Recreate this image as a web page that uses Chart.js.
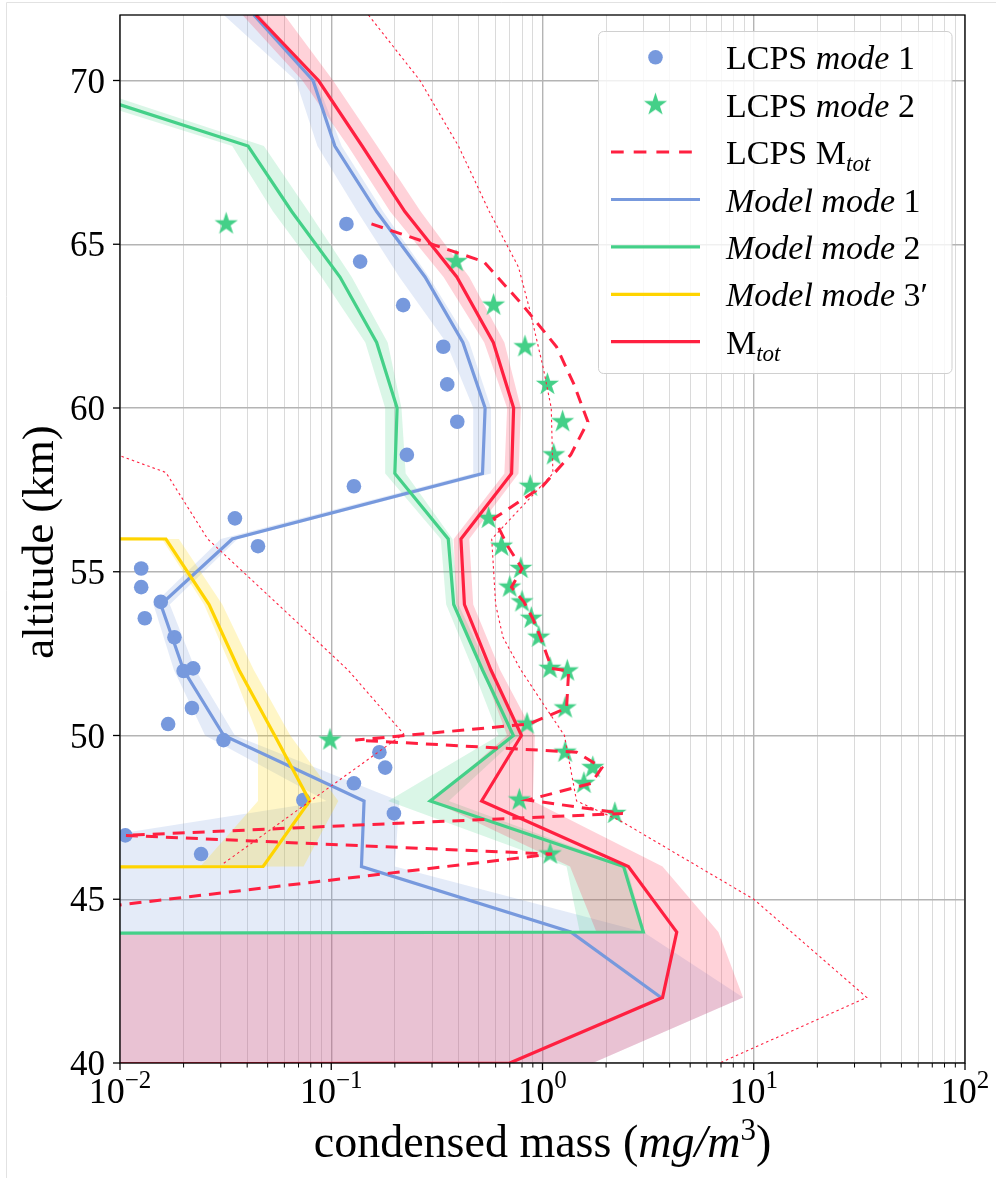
<!DOCTYPE html>
<html>
<head>
<meta charset="utf-8">
<script src="https://cdn.jsdelivr.net/npm/chart.js@4.4.1/dist/chart.umd.min.js"></script>
<style>
html,body{margin:0;padding:0;background:#fff;}
canvas{display:block;}
</style>
</head>
<body>
<canvas id="c" width="996" height="1178"></canvas>
<script>
// ---------------- DATA ----------------
// model altitude grid (km)
const modelAlt   = [72,70,68,66,64,62,60,58,56,54,52,50,48,46,44,42,40,38];
// Model mode 1 (blue) + uncertainty band
const mode1Model = [0.043,0.082,0.104,0.164,0.278,0.42,0.535,0.52,0.034,0.0156,0.020,0.031,0.143,0.139,1.36,3.64,null,null];
const mode1Low   = [0.031,0.068,0.086,0.133,0.21,0.35,0.47,0.47,0.030,0.0144,0.018,0.0253,0.095,0.001,0,0,0,null];
const mode1High  = [0.046,0.085,0.112,0.176,0.29,0.45,0.57,0.57,0.036,0.0172,0.0228,0.035,0.21,0.20,3.0,8.9,1.73,null];
// Model mode 2 (green)
const mode2Model = [null,0.0044,0.0404,0.065,0.11,0.164,0.205,0.20,0.358,0.38,0.52,0.728,0.294,2.42,3.0,0,0,null];
const mode2Low   = [null,0.0035,0.034,0.053,0.09,0.145,0.18,0.18,0.33,0.35,0.47,0.62,0.186,1.3,1.5,null,null,null];
const mode2High  = [null,0.0055,0.048,0.078,0.125,0.185,0.215,0.225,0.375,0.40,0.56,0.78,0.36,2.5,3.05,null,null,null];
// Model mode 3' (yellow)
const mode3Model = [0,0,0,0,0,0,0,0,0.0165,0.0264,0.0366,0.054,0.079,0.0476,0,0,0,null];
const mode3Low   = [null,null,null,null,null,null,null,0,0.0158,0.025,0.034,0.045,0.045,0.024,0,null,null,null];
const mode3High  = [null,null,null,null,null,null,null,0,0.019,0.0305,0.043,0.064,0.108,0.074,0,null,null,null];
// Model total mass (red)
const mtotModel  = [0.044,0.087,0.14,0.223,0.393,0.585,0.73,0.714,0.411,0.427,0.57,0.795,0.515,2.55,4.32,3.7,0.70,0];
const mtotLow    = [0.038,0.073,0.12,0.19,0.34,0.53,0.68,0.66,0.38,0.39,0.52,0.68,0.30,1.35,1.8,0,0,null];
const mtotHigh   = [0.060,0.102,0.165,0.265,0.45,0.66,0.79,0.77,0.45,0.47,0.63,0.92,0.90,3.7,6.8,8.9,1.73,null];

// LCPS measurements
const lcpsAlt   = [65.62,64.47,63.14,61.87,60.72,59.58,58.57,57.61,56.63,55.78,55.10,54.53,54.08,53.58,53.00,52.05,51.97,50.84,50.35,49.86,49.49,49.02,48.54,48.03,47.62,46.95,46.38,44.6];
const lcpsMode1 = [0.118,0.137,0.219,0.339,0.354,0.395,0.228,0.128,0.035,0.045,0.0126,0.0126,0.0156,0.0131,0.0181,0.0222,0.0200,0.0219,0.0169,0.0309,0.169,0.180,0.128,0.0738,0.198,0.0106,0.0242,null];
const lcpsMode2 = [0.0318,0.39,0.587,0.826,1.055,1.245,1.13,0.875,0.556,0.64,0.79,0.70,0.80,0.885,0.96,1.085,1.31,1.28,0.845,0.0986,1.28,1.73,1.57,0.777,2.2,null,1.087,null];
const lcpsMtot  = [0.155,0.527,0.806,1.165,1.41,1.64,1.36,1.0,0.59,0.685,0.80,0.713,0.816,0.898,0.978,1.105,1.33,1.30,0.862,0.13,1.45,1.91,1.70,0.85,2.40,0.0106,1.11,0.005];

// thin dotted envelope profiles
const envHiAlt = [72,70,68,66,64.3,63,61.2,60,58,56,54,53,52,51,50,48,47.4,45,42,40];
const envHi    = [0.15,0.263,0.40,0.56,0.77,0.87,1.01,1.10,1.12,0.575,0.60,0.65,0.79,1.0,1.27,1.45,2.33,10.0,34.3,6.9];
const envLoAlt = [59.5,58.03,56,54,52,50.05,46.1];
const envLo    = [0.0039,0.0165,0.026,0.056,0.12,0.22,0.031];

// axes
const xMajorExp = [-2,-1,0,1,2];
const yTicks    = [40,45,50,55,60,65,70];

// ---------------- STYLE ----------------
const RED='#ff2040', BLUE='#7799dd', GREEN='#44d088', YELLOW='#ffd400';
function rgba(hex,a){const n=parseInt(hex.slice(1),16);return `rgba(${n>>16},${(n>>8)&255},${n&255},${a})`;}
const SERIF='"Liberation Serif", "DejaVu Serif", serif';

// non-positive values on a log axis are clipped far to the left (as matplotlib does)
const CLIP=1e-300;
const cv=v=>v===0?CLIP:v;
function profile(alts,vals){const o=[];alts.forEach((a,i)=>{const v=vals[i];if(v!=null)o.push({x:cv(v),y:a});});return o;}
function band(alts,lo,hi){const o=[];alts.forEach((a,i)=>{if(lo[i]!=null)o.push({x:cv(lo[i]),y:a});});
  for(let i=alts.length-1;i>=0;i--){if(hi[i]!=null)o.push({x:cv(hi[i]),y:alts[i]});}return o;}

function makeStar(R,color){
  const s=Math.ceil(R*2+2);const c=document.createElement('canvas');c.width=s;c.height=s;
  const g=c.getContext('2d');g.fillStyle=color;g.beginPath();
  for(let i=0;i<10;i++){const r=i%2===0?R:R*0.382;const a=-Math.PI/2+i*Math.PI/5;
    const x=s/2+r*Math.cos(a),y=s/2+r*Math.sin(a);i===0?g.moveTo(x,y):g.lineTo(x,y);}
  g.closePath();g.fill();return c;
}
const STAR=makeStar(12.2,GREEN);

function bandDS(data,color,order){return{data,borderWidth:0,borderColor:'transparent',pointRadius:0,backgroundColor:color,fill:'shape',order};}
function lineDS(data,color,order,extra){return Object.assign({data,borderColor:color,backgroundColor:color,borderWidth:3.2,pointRadius:0,fill:false,order,tension:0},extra||{});}

const datasets=[
  bandDS(band(modelAlt,mtotLow,mtotHigh),rgba(RED,0.2),9),
  bandDS(band(modelAlt,mode3Low,mode3High),rgba(YELLOW,0.22),10),
  bandDS(band(modelAlt,mode2Low,mode2High),rgba(GREEN,0.2),11),
  bandDS(band(modelAlt,mode1Low,mode1High),rgba(BLUE,0.2),12),
  {data:profile(lcpsAlt,lcpsMode1),showLine:false,pointRadius:7.3,pointStyle:'circle',pointBackgroundColor:BLUE,pointBorderWidth:0,pointBorderColor:BLUE,clip:0,order:8},
  {data:profile(lcpsAlt,lcpsMode2),showLine:false,pointRadius:12,pointStyle:STAR,clip:0,order:7},
  lineDS(profile(modelAlt,mode1Model),BLUE,6),
  lineDS(profile(modelAlt,mode2Model),GREEN,5),
  lineDS(profile(modelAlt,mode3Model),YELLOW,4),
  lineDS(profile(modelAlt,mtotModel),RED,3),
  lineDS(profile(envHiAlt,envHi),RED,2,{borderWidth:1.1,borderDash:[2.5,3]}),
  lineDS(profile(envLoAlt,envLo),RED,2,{borderWidth:1.1,borderDash:[2.5,3]}),
  lineDS(profile(lcpsAlt,lcpsMtot),RED,1,{borderWidth:3,borderDash:[12,8]}),
];

const xTickVals=[];
xMajorExp.forEach(e=>{for(let m=1;m<=9;m++){if(e===xMajorExp[xMajorExp.length-1]&&m>1)break;
  xTickVals.push({value:parseFloat((m*Math.pow(10,e)).toPrecision(6)),major:m===1});}});

// ---------------- DECORATION PLUGIN ----------------
function rich(g,x,y,parts){let cx=x;for(const p of parts){g.font=p[1];g.fillText(p[0],cx,y+(p[2]||0));cx+=g.measureText(p[0]).width;}return cx;}
function richWidth(g,parts){let w=0;for(const p of parts){g.font=p[1];w+=g.measureText(p[0]).width;}return w;}

const LR='34px '+SERIF, LI='italic 34px '+SERIF, LS='italic 23px '+SERIF;
const legendItems=[
  {kind:'dot',parts:[['LCPS ',LR],['mode',LI],[' 1',LR]]},
  {kind:'star',parts:[['LCPS ',LR],['mode',LI],[' 2',LR]]},
  {kind:'dash',color:RED,parts:[['LCPS M',LR],['tot',LS,7]]},
  {kind:'line',color:BLUE,parts:[['Model mode',LI],[' 1',LR]]},
  {kind:'line',color:GREEN,parts:[['Model mode',LI],[' 2',LR]]},
  {kind:'line',color:YELLOW,parts:[['Model mode',LI],[' 3\u2032',LR]]},
  {kind:'line',color:RED,parts:[['M',LR],['tot',LS,7]]},
];

function drawLegend(g){
  g.save();
  g.beginPath();g.roundRect(598.5,31.5,353.5,342,5);
  g.fillStyle='rgba(255,255,255,0.8)';g.fill();
  g.strokeStyle='#d0d0d0';g.lineWidth=1;g.stroke();
  legendItems.forEach((it,i)=>{
    const y=57.3+i*47.4;
    if(it.kind==='dot'){g.fillStyle=BLUE;g.beginPath();g.arc(655.5,y,7.3,0,Math.PI*2);g.fill();}
    else if(it.kind==='star'){g.drawImage(STAR,655.5-STAR.width/2,y-STAR.height/2);}
    else{g.strokeStyle=it.color;g.lineWidth=it.kind==='dash'?3:3.2;g.setLineDash(it.kind==='dash'?[12.7,10]:[]);
      g.beginPath();g.moveTo(611,y);g.lineTo(it.kind==='dash'?692:700,y);g.stroke();g.setLineDash([]);}
    g.fillStyle='#000';g.textAlign='left';g.textBaseline='alphabetic';
    rich(g,726,y+12,it.parts);
  });
  g.restore();
}

const deco={
  id:'deco',
  beforeDraw(chart){
    const g=chart.ctx;g.save();g.fillStyle='#fff';g.fillRect(0,0,chart.width,chart.height);
    g.strokeStyle='#e2e2e2';g.lineWidth=1;g.beginPath();g.moveTo(6.5,chart.height);g.lineTo(6.5,2.5);g.lineTo(chart.width,2.5);g.stroke();g.restore();
  },
  afterDraw(chart){
    const g=chart.ctx,a=chart.chartArea,xs=chart.scales.x,ys=chart.scales.y;
    drawLegend(g);
    g.save();
    g.strokeStyle='#000';g.lineWidth=1.3;
    g.strokeRect(a.left,a.top,a.right-a.left,a.bottom-a.top);
    // x tick marks
    xTickVals.forEach(t=>{const px=xs.getPixelForValue(t.value);g.lineWidth=t.major?1.3:1;
      g.beginPath();g.moveTo(px,a.bottom);g.lineTo(px,a.bottom+(t.major?7:4.5));g.stroke();});
    // y tick marks
    g.lineWidth=1.3;
    yTicks.forEach(v=>{const py=ys.getPixelForValue(v);g.beginPath();g.moveTo(a.left-7,py);g.lineTo(a.left,py);g.stroke();});
    // y tick labels
    g.fillStyle='#000';g.textAlign='right';g.textBaseline='alphabetic';g.font='35px '+SERIF;
    yTicks.forEach(v=>{const py=ys.getPixelForValue(v);g.fillText(String(v),a.left-15,py+12);});
    // x tick labels 10^e
    g.textAlign='left';
    xMajorExp.forEach(e=>{
      const px=xs.getPixelForValue(Math.pow(10,e));
      const parts=[['10','36px '+SERIF,0],[(e<0?'\u2212'+(-e):String(e)),'25px '+SERIF,-15]];
      const w=richWidth(g,parts);
      rich(g,px-w/2,1103,parts);
    });
    // x axis title
    const tp=[['condensed mass (','46px '+SERIF],['mg/m','italic 46px '+SERIF],['3','31px '+SERIF,-17],[')','46px '+SERIF]];
    const tw=richWidth(g,tp);
    rich(g,(a.left+a.right)/2-tw/2,1157,tp);
    // y axis title
    g.save();g.translate(53,(a.top+a.bottom)/2+3);g.rotate(-Math.PI/2);
    g.textAlign='center';g.font='45px '+SERIF;g.fillText('altitude (km)',0,0);g.restore();
    g.restore();
  }
};

new Chart(document.getElementById('c'),{
  type:'line',
  data:{datasets},
  options:{
    responsive:false,animation:false,devicePixelRatio:1,
    layout:{padding:{left:0,right:31,top:15,bottom:0}},
    plugins:{legend:{display:false},tooltip:{enabled:false}},
    scales:{
      x:{type:'logarithmic',min:0.01,max:100,position:'bottom',
        ticks:{display:false},border:{display:false},
        grid:{drawTicks:false,
          color:c=>(c.tick&&c.tick.major)?'#b4b4b4':'#dadada',
          lineWidth:c=>(c.tick&&c.tick.major)?1.4:1},
        afterBuildTicks:s=>{s.ticks=xTickVals.map(t=>({value:t.value,major:t.major}));},
        afterFit:s=>{s.height=115;}},
      y:{type:'linear',min:40,max:72,position:'left',
        ticks:{display:false},border:{display:false},
        grid:{drawTicks:false,color:'#b4b4b4',lineWidth:1.4},
        afterBuildTicks:s=>{s.ticks=yTicks.map(v=>({value:v}));},
        afterFit:s=>{s.width=120;}}
    }
  },
  plugins:[deco]
});
</script>
</body>
</html>
